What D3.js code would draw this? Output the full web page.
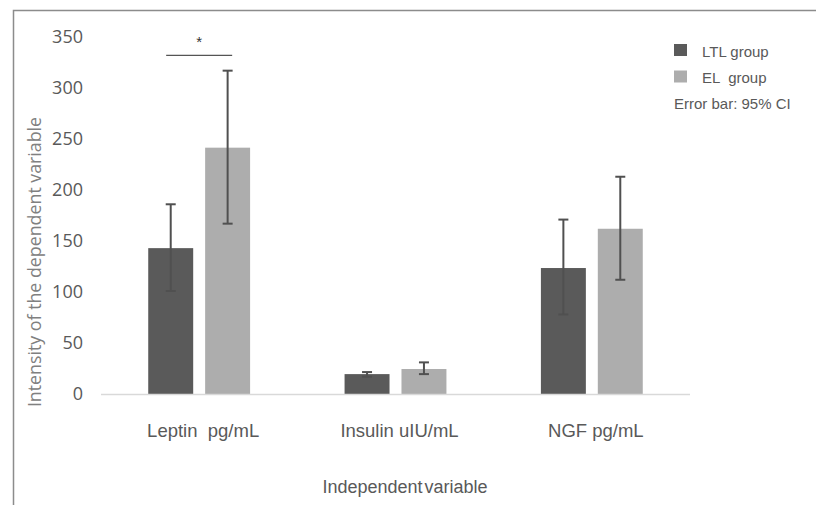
<!DOCTYPE html>
<html>
<head>
<meta charset="utf-8">
<script src="https://cdn.jsdelivr.net/npm/d3@7"></script>
<style>
  body { margin: 0; background: #fff; }
  svg { display: block; }
  text { white-space: pre; }
</style>
</head>
<body>
<script>
// categories and groups
var categories = ["Leptin  pg/mL", "Insulin uIU/mL", "NGF pg/mL"];
var groups = ["LTL group", "EL  group"];
// mean values per group (same order as categories)
var ltlMean = [143, 19.5, 123.5];
var elMean = [241.5, 24.5, 162];
// 95% CI low / high
var ltlLow = [101, 17, 78];
var ltlHigh = [186, 21.5, 171];
var elLow = [167, 19.5, 112];
var elHigh = [317, 31, 213];
var yTicks = [0, 50, 100, 150, 200, 250, 300, 350];
var sigValue = 332;

var colors = {"LTL group": "#5a5a5a", "EL  group": "#adadad"};

var width = 816, height = 505;
var svg = d3.select("body").append("svg").attr("width", width).attr("height", height);

// outer frame (cropped box)
svg.append("path")
  .attr("d", "M13.5,505 L13.5,10.5 L816,10.5")
  .attr("fill", "none").attr("stroke", "#8c8c8c").attr("stroke-width", 1.5);

var x0 = d3.scaleBand().domain(categories).range([101, 690]);
var x1 = d3.scaleBand().domain(groups).range([0, x0.bandwidth()])
  .paddingInner(0.21).paddingOuter(0.83);
var y = d3.scaleLinear().domain([0, 350]).range([394, 37]);

var rows = [];
categories.forEach(function(c, i) {
  rows.push({cat: c, grp: groups[0], v: ltlMean[i], lo: ltlLow[i], hi: ltlHigh[i]});
  rows.push({cat: c, grp: groups[1], v: elMean[i], lo: elLow[i], hi: elHigh[i]});
});

// y axis labels
var yAxis = d3.axisLeft(y).tickValues(yTicks).tickSize(0).tickPadding(0);
var ya = svg.append("g").attr("transform", "translate(83,0)").call(yAxis);
ya.select(".domain").remove();
ya.selectAll("text")
  .attr("font-family", "'Open Sans', sans-serif")
  .attr("font-size", 18)
  .attr("fill", "#595959");

// bars
svg.append("g").selectAll("rect").data(rows).join("rect")
  .attr("x", d => x0(d.cat) + x1(d.grp))
  .attr("y", d => y(d.v))
  .attr("width", x1.bandwidth())
  .attr("height", d => y(0) - y(d.v))
  .attr("fill", d => colors[d.grp]);

// baseline
svg.append("line")
  .attr("x1", x0.range()[0]).attr("x2", x0.range()[1])
  .attr("y1", y(0) + 0.5).attr("y2", y(0) + 0.5)
  .attr("stroke", "#d9d9d9").attr("stroke-width", 1.5);

// error bars
var eb = svg.append("g").attr("stroke", "#505050").attr("stroke-width", 2);
rows.forEach(function(d) {
  var cx = x0(d.cat) + x1(d.grp) + x1.bandwidth() / 2;
  eb.append("line").attr("x1", cx).attr("x2", cx).attr("y1", y(d.lo)).attr("y2", y(d.hi));
  eb.append("line").attr("x1", cx - 5).attr("x2", cx + 5).attr("y1", y(d.hi)).attr("y2", y(d.hi));
  eb.append("line").attr("x1", cx - 5).attr("x2", cx + 5).attr("y1", y(d.lo)).attr("y2", y(d.lo));
});

// significance marker
var sx = x0(categories[0]) + x0.bandwidth() / 2;
svg.append("line")
  .attr("x1", sx - 33).attr("x2", sx + 33)
  .attr("y1", y(sigValue)).attr("y2", y(sigValue))
  .attr("stroke", "#555").attr("stroke-width", 1.2);
svg.append("text")
  .attr("x", sx).attr("y", y(sigValue) - 8)
  .attr("text-anchor", "middle")
  .attr("font-family", "'Liberation Sans', Arial, sans-serif")
  .attr("font-size", 15).attr("fill", "#333")
  .text("*");

// category labels
svg.append("g").selectAll("text").data(categories).join("text")
  .attr("x", d => x0(d) + x0.bandwidth() / 2 + 4)
  .attr("y", 437)
  .attr("text-anchor", "middle")
  .attr("font-family", "'Liberation Sans', Arial, sans-serif")
  .attr("font-size", 18.5).attr("fill", "#595959")
  .text(d => d);

// axis titles
svg.append("text")
  .attr("x", 405).attr("y", 493)
  .attr("text-anchor", "middle")
  .attr("font-family", "'Liberation Sans', Arial, sans-serif")
  .attr("font-size", 18).attr("word-spacing", -3).attr("fill", "#595959")
  .text("Independent variable");

svg.append("text")
  .attr("transform", "translate(41,262) rotate(-90)")
  .attr("text-anchor", "middle")
  .attr("font-family", "'Open Sans', sans-serif")
  .attr("font-size", 17.8).attr("fill", "#808080")
  .text("Intensity of the dependent variable");

// legend
var lg = svg.append("g").attr("font-family", "'Liberation Sans', Arial, sans-serif")
  .attr("font-size", 15).attr("fill", "#595959");
groups.forEach(function(g, i) {
  lg.append("rect").attr("x", 674).attr("y", 44 + i * 26.5)
    .attr("width", 13).attr("height", 12).attr("fill", colors[g]);
  lg.append("text").attr("x", 702).attr("y", 57 + i * 26).text(g);
});
lg.append("text").attr("x", 674).attr("y", 109).text("Error bar: 95% CI");
</script>
</body>
</html>
